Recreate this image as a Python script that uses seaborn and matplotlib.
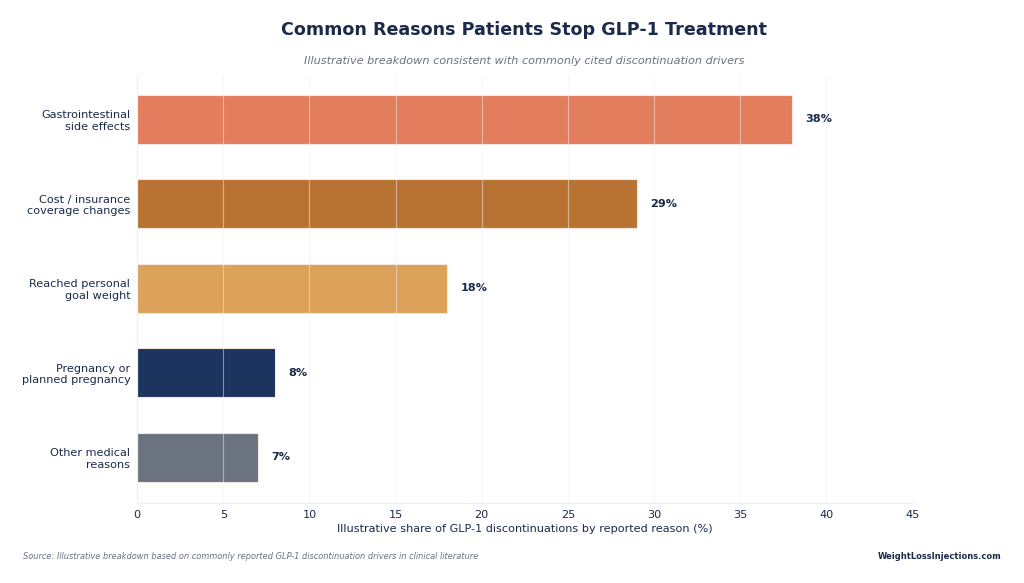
import matplotlib
matplotlib.use("Agg")
import matplotlib.pyplot as plt
import seaborn as sns
import pandas as pd

reasons = ["Gastrointestinal\nside effects",
           "Cost / insurance\ncoverage changes",
           "Reached personal\ngoal weight",
           "Pregnancy or\nplanned pregnancy",
           "Other medical\nreasons"]
shares = [38, 29, 18, 8, 7]
colors = ["#E27D5E", "#B87333", "#DCA15A", "#1C345E", "#6B7280"]

navy = "#1B2A4A"
df = pd.DataFrame({"reason": reasons, "share": shares})

sns.set_style("white")
plt.rcParams['font.family'] = ['DejaVu Sans']

fig, ax = plt.subplots(figsize=(10.24, 5.83), dpi=100)
fig.subplots_adjust(left=0.134, right=0.891, top=0.871, bottom=0.137)

sns.barplot(data=df, x="share", y="reason", hue="reason", palette=colors,
            saturation=1, legend=False, width=0.58, edgecolor="#f5e6df",
            linewidth=0.8, ax=ax, zorder=2)

ax.set_xlim(0, 45)
ax.set_ylim(4.54, -0.52)
ax.set_xticks(range(0, 50, 5))
ax.grid(axis="x", color="#f0f1f3", linewidth=0.8, alpha=0.5, zorder=3)
ax.set_axisbelow(False)
for g in ax.get_xgridlines():
    g.set_zorder(3)

for i, v in enumerate(shares):
    ax.text(v + 0.8, i, f"{v}%", va="center", ha="left", fontsize=8.1,
            fontweight="bold", color=navy)

for s in ["top", "right"]:
    ax.spines[s].set_visible(False)
for s in ["left", "bottom"]:
    ax.spines[s].set_color("#eceef1")
    ax.spines[s].set_linewidth(0.8)

ax.tick_params(axis="both", colors="#9ca3af", labelcolor=navy, labelsize=8.1,
               length=3, width=0.6, pad=2)
ax.set_ylabel("")
ax.set_xlabel("Illustrative share of GLP-1 discontinuations by reported reason (%)",
              fontsize=8.1, color=navy, labelpad=3)

fig.text(0.512, 0.948, "Common Reasons Patients Stop GLP-1 Treatment",
         ha="center", va="center", fontsize=12.6, fontweight="bold", color=navy)
fig.text(0.512, 0.896, "Illustrative breakdown consistent with commonly cited discontinuation drivers",
         ha="center", va="center", fontsize=8.15, style="italic", color="#6b7280")
fig.text(0.022, 0.045, "Source: Illustrative breakdown based on commonly reported GLP-1 discontinuation drivers in clinical literature",
         ha="left", va="center", fontsize=5.95, style="italic", color="#6b7280")
fig.text(0.978, 0.045, "WeightLossInjections.com", ha="right", va="center",
         fontsize=6.0, fontweight="bold", color=navy)

fig.savefig("out.png", dpi=100, facecolor="white")
